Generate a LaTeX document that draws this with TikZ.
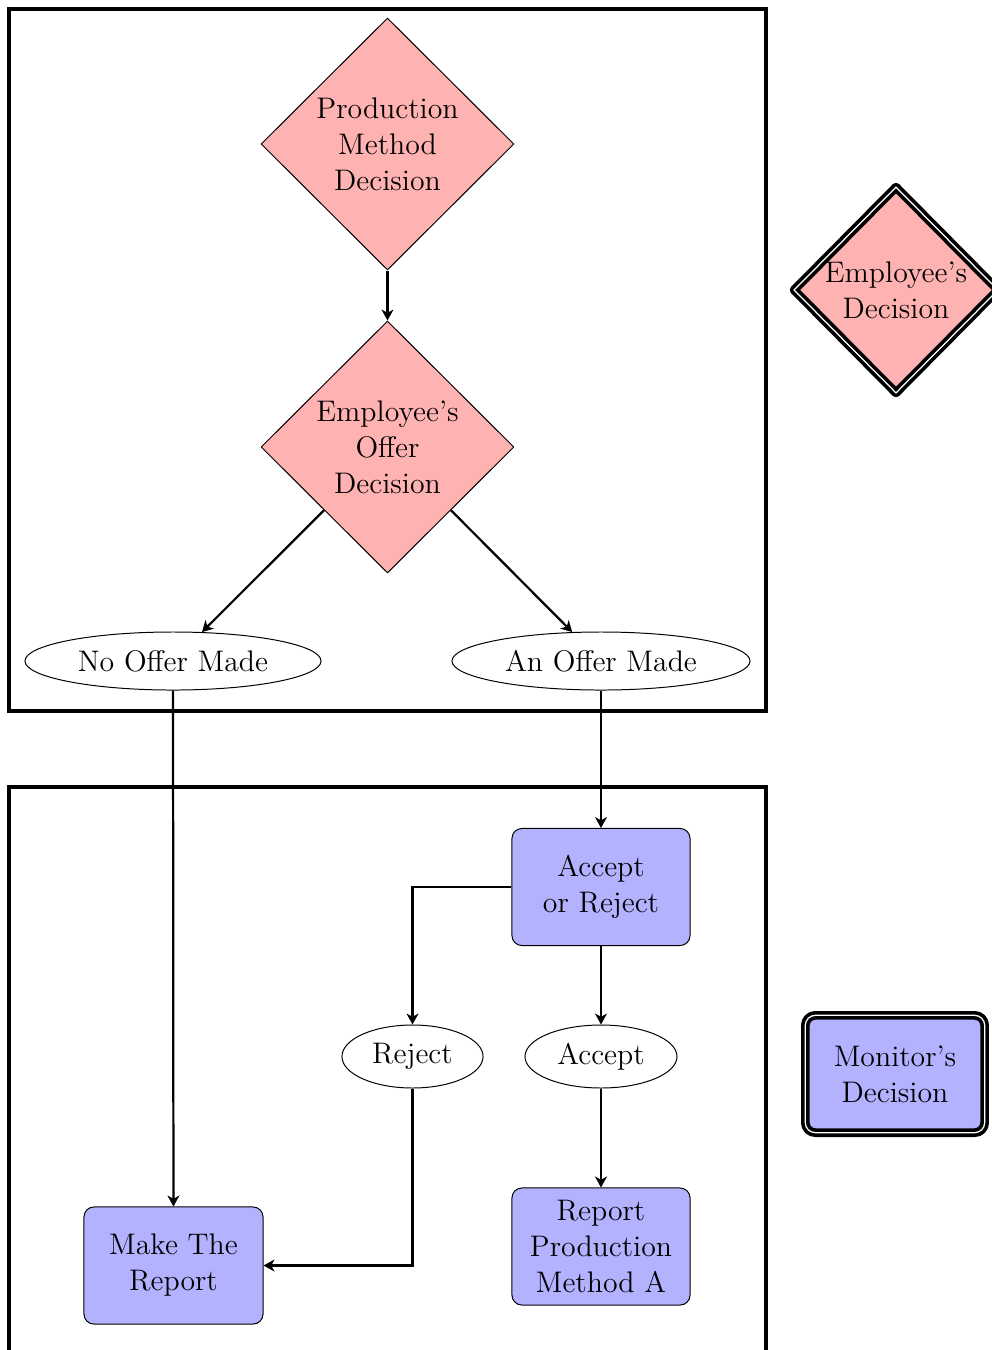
\documentclass[tikz,border=0pt]{standalone}
\usetikzlibrary{shapes.geometric, arrows.meta}
\begin{document}
\begin{tikzpicture}[x=0.403226pt, y=-0.403226pt,
  font=\fontsize{12}{14.5}\selectfont,
  dec/.style={diamond, draw, fill=red!30, minimum width=102pt, minimum height=101.6pt, inner sep=0pt, align=center},
  outc/.style={ellipse, draw, inner sep=0pt, minimum height=23.4pt},
  act/.style={rectangle, rounded corners=4pt, draw, fill=blue!30, minimum width=71.8pt, minimum height=47.2pt, align=center, inner sep=2pt},
  conn/.style={line width=0.9pt, -{Stealth[length=4.4pt,width=4.8pt,inset=1.3pt]}},
  frame/.style={ultra thick},
  dbl/.style={double, line width=1.5pt, double distance=0.5pt, line join=round}
]
\useasboundingbox (0,0) rectangle (992,1350);
\clip (0,0) rectangle (992,1350);
% frames
\draw[frame] (9,9) rectangle (766,711);
\draw[frame] (9,787) rectangle (766,1420);
% top panel
\node[dec] (d1) at (387.5,144) {Production\\Method\\Decision};
\node[dec] (d2) at (387.5,447) {Employee's\\Offer\\Decision};
\node[outc, minimum width=119.4pt] (noOffer) at (173,661) {No Offer Made};
\node[outc, minimum width=120.2pt] (offer) at (601,661) {An Offer Made};
% bottom panel
\node[act] (aor) at (601,887) {Accept\\or Reject};
\node[outc, minimum width=56.9pt, minimum height=25.4pt] (rej) at (412.5,1056.5) {Reject};
\node[outc, minimum width=61.3pt, minimum height=25.4pt] (acc) at (601,1056.5) {Accept};
\node[act, minimum width=72.2pt] (make) at (173.5,1265.5) {Make The\\Report};
\node[act] (rpm) at (601,1246.5) {Report\\Production\\Method A};
% legend
\node[dec, dbl, minimum width=82.8pt, minimum height=83.6pt] (legD) at (896,290) {Employee's\\Decision};
\node[act, dbl, minimum width=72.3pt, minimum height=47.3pt] (legM) at (895,1074) {Monitor's\\Decision};
% connectors
\draw[conn] (d1) -- (d2);
\draw[conn] (d2.south west) -- (noOffer);
\draw[conn] (d2.south east) -- (offer);
\draw[conn] (noOffer) -- (make);
\draw[conn] (offer) -- (aor);
\draw[conn] (aor.west) -| (rej);
\draw[conn] (aor) -- (acc);
\draw[conn] (acc) -- (rpm);
\draw[conn] (rej) |- (make);
\end{tikzpicture}
\end{document}
